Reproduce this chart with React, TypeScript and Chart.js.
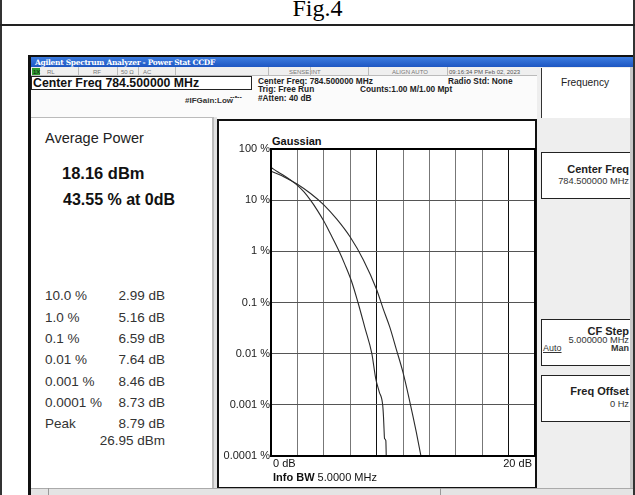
import React, { useEffect, useRef } from "react";
import { Chart, registerables } from "chart.js";

Chart.register(...registerables);

// ---- data ----
const measuredDb = [0, 0.5, 1, 1.5, 2, 2.5, 2.99, 3.5, 4, 4.5, 5.16, 5.6, 6.1, 6.59, 7.1, 7.64, 7.93, 8.2, 8.46, 8.52, 8.56, 8.6, 8.7, 8.73];
const measuredPct = [43.55, 36, 30, 24.5, 19.5, 14.5, 10, 6.4, 3.9, 2.2, 1, 0.55, 0.26, 0.1, 0.033, 0.01, 0.0033, 0.0018, 0.001, 0.0006, 0.00035, 0.00022, 0.0002, 0.0001];
const gaussianDb = [0, 1, 2, 3, 4, 5, 6, 7, 8, 8.5, 9, 9.5, 10, 10.5, 11, 11.36];
const gaussianPct = [36.8, 28.5, 20.5, 13.5, 8.1, 4.2, 1.9, 0.68, 0.18, 0.075, 0.033, 0.012, 0.0043, 0.0012, 0.0003, 0.0001];
const yTickValues = [0.0001, 0.001, 0.01, 0.1, 1, 10, 100];
const yTickLabels = ["0.0001 %", "0.001 %", "0.01 %", "0.1 %", "1 %", "10 %", "100 %"];
const xMin = 0;
const xMax = 20;
const xStep = 2;

const statLevels = ["10.0 %", "1.0 %", "0.1 %", "0.01 %", "0.001 %", "0.0001 %", "Peak"];
const statValues = ["2.99 dB", "5.16 dB", "6.59 dB", "7.64 dB", "8.46 dB", "8.73 dB", "8.79 dB"];
const peakDbm = "26.95 dBm";
const avgPower = "18.16 dBm";
const avgPct = "43.55 % at 0dB";

const SANS = "'Liberation Sans', Arial, sans-serif";

type TP = {
  x?: number;
  r?: number;
  y: number;
  s: number;
  b?: boolean;
  c?: string;
  f?: string;
  children: React.ReactNode;
  st?: React.CSSProperties;
};
function T({ x, r, y, s, b, c, f, children, st }: TP) {
  const style: React.CSSProperties = {
    position: "absolute",
    top: y - 0.846 * s,
    fontSize: s,
    lineHeight: 1,
    fontFamily: f || SANS,
    fontWeight: b ? "bold" : "normal",
    color: c || "#111",
    whiteSpace: "nowrap",
    ...st,
  };
  if (r !== undefined) style.right = 635 - r;
  else style.left = x;
  return <div style={style}>{children}</div>;
}

function Box({ l, t, w, h, st }: { l: number; t: number; w: number; h: number; st?: React.CSSProperties }) {
  return <div style={{ position: "absolute", left: l, top: t, width: w, height: h, boxSizing: "border-box", ...st }} />;
}

function CcdfChart() {
  const ref = useRef<HTMLCanvasElement | null>(null);
  useEffect(() => {
    if (!ref.current) return;
    const framePlugin = {
      id: "frame",
      afterDraw(chart: any) {
        const { ctx, chartArea } = chart;
        ctx.save();
        ctx.strokeStyle = "#000";
        ctx.lineWidth = 2;
        ctx.strokeRect(chartArea.left, chartArea.top, chartArea.right - chartArea.left, chartArea.bottom - chartArea.top);
        ctx.restore();
      },
    };
    const chart = new Chart(ref.current, {
      type: "line",
      data: {
        datasets: [
          {
            label: "Measured",
            data: measuredDb.map((x, i) => ({ x, y: measuredPct[i] })),
            borderColor: "#2a2a2a",
            borderWidth: 1.1,
            pointRadius: 0,
            cubicInterpolationMode: "monotone",
          },
          {
            label: "Gaussian",
            data: gaussianDb.map((x, i) => ({ x, y: gaussianPct[i] })),
            borderColor: "#2a2a2a",
            borderWidth: 1.1,
            pointRadius: 0,
            cubicInterpolationMode: "monotone",
          },
        ],
      },
      options: {
        animation: false,
        responsive: false,
        maintainAspectRatio: false,
        layout: { padding: { top: 11, right: 2, bottom: 12, left: 0 } },
        plugins: { legend: { display: false }, tooltip: { enabled: false }, title: { display: false } },
        scales: {
          x: {
            type: "linear",
            min: xMin,
            max: xMax,
            ticks: { display: false, stepSize: xStep },
            grid: {
              drawTicks: false,
              color: (ctx: any) => (ctx.tick && (ctx.tick.value === 8 || ctx.tick.value === 18) ? "#111" : "#777"),
              lineWidth: 1,
            },
            border: { display: false },
            afterFit: (s: any) => {
              s.height = 0;
            },
          },
          y: {
            type: "logarithmic",
            min: yTickValues[0],
            max: yTickValues[yTickValues.length - 1],
            afterBuildTicks: (s: any) => {
              s.ticks = yTickValues.map((v) => ({ value: v }));
            },
            ticks: {
              autoSkip: false,
              padding: 1,
              color: "#222",
              font: { family: SANS, size: 11 },
              callback: (v: any) => {
                const i = yTickValues.findIndex((t) => Math.abs(t - Number(v)) / t < 1e-6);
                return i >= 0 ? yTickLabels[i] : "";
              },
            },
            grid: { drawTicks: false, color: "#555", lineWidth: 1 },
            border: { display: false },
            afterFit: (s: any) => {
              s.width = 53;
            },
          },
        },
      } as any,
      plugins: [framePlugin],
    });
    return () => chart.destroy();
  }, []);
  return <canvas ref={ref} width={319} height={330} style={{ position: "absolute", left: 218, top: 138, width: 319, height: 330 }} />;
}

export default function App() {
  const rowY = [300.5, 322, 343.3, 364.7, 386, 407.3, 428.7];
  return (
    <div style={{ position: "fixed", left: 0, top: 0, width: 635, height: 495, background: "#fff", overflow: "hidden" }}>
      {/* document frame */}
      <T x={0} y={16} s={24} f="'Liberation Serif', 'Times New Roman', serif" c="#000" st={{ width: 635, textAlign: "center" }}>
        Fig.4
      </T>
      <Box l={0} t={0} w={1.5} h={495} st={{ background: "#333" }} />
      <Box l={633} t={0} w={2} h={495} st={{ background: "#333" }} />
      <Box l={0} t={24} w={635} h={1.5} st={{ background: "#222" }} />

      {/* screenshot background */}
      <Box l={28} t={55} w={605} h={440} st={{ background: "#fbfbfb", borderLeft: "3px solid #111", borderTop: "2px solid #111" }} />
      {/* title bar */}
      <Box l={31} t={57} w={602} h={10} st={{ background: "linear-gradient(#3d7de0, #1d56c2)" }} />
      <T x={35} y={65} s={7.5} b c="#fff" f="'DejaVu Serif', serif" st={{ letterSpacing: -0.3 }}>
        Agilent Spectrum Analyzer - Power Stat CCDF
      </T>
      {/* status row */}
      <Box l={31} t={67} w={510} h={9} st={{ background: "#efefef", borderBottom: "1px solid #bbb" }} />
      <Box l={32} t={67.5} w={8} h={7} st={{ background: "#2e9a2e" }} />
      <T x={33} y={74} s={6} c="#111">1X</T>
      {[78, 117, 138, 175, 268, 310, 368, 447].map((x, i) => (
        <Box key={i} l={x} t={67} w={1} h={9} st={{ background: "#bbb" }} />
      ))}
      <T x={47} y={74} s={6} c="#777">RL</T>
      <T x={93} y={74} s={6} c="#777">RF</T>
      <T x={121} y={74} s={6} c="#777">50 Ω</T>
      <T x={143} y={74} s={6} c="#777">AC</T>
      <T x={289} y={74} s={6} c="#777">SENSE:INT</T>
      <T x={392} y={74} s={6} c="#777">ALIGN AUTO</T>
      <T x={449} y={74} s={6} c="#555">09:16:34 PM Feb 02, 2023</T>

      {/* center freq box */}
      <Box l={31} t={76} w={221} h={14} st={{ background: "#fff", border: "1px solid #222" }} />
      <T x={33} y={87.5} s={12.3} b c="#111">Center Freq 784.500000 MHz</T>
      <T x={258} y={84} s={8.3} b c="#222">Center Freq: 784.500000 MHz</T>
      <T x={258} y={92.5} s={8.3} b c="#222">Trig: Free Run</T>
      <T x={258} y={101} s={8.3} b c="#222">#Atten: 40 dB</T>
      <T x={360} y={92.5} s={8.3} b c="#222">Counts:1.00 M/1.00 Mpt</T>
      <T x={448} y={84} s={8.3} b c="#222">Radio Std: None</T>
      <T x={185} y={104} s={8} b c="#333">#IFGain:Low</T>
      <T x={230} y={99} s={7} b c="#333">--•--</T>

      {/* left panel */}
      <Box l={31} t={117} w={183} h={371} st={{ background: "#fff", borderTop: "1px solid #bbb", borderRight: "2px solid #bbb" }} />
      <Box l={214} t={117} w={3} h={371} st={{ background: "#e2e2e2" }} />
      <T x={45} y={143.5} s={14.5} c="#222">Average Power</T>
      <T x={62} y={179} s={16.5} b c="#111">{avgPower}</T>
      <T x={63} y={205.5} s={16} b c="#111">{avgPct}</T>
      {statLevels.map((l, i) => (
        <React.Fragment key={l}>
          <T x={45} y={rowY[i]} s={13.5} c="#333">{l}</T>
          <T r={165} y={rowY[i]} s={13.5} c="#333">{statValues[i]}</T>
        </React.Fragment>
      ))}
      <T r={165} y={445} s={13.5} c="#333">{peakDbm}</T>

      {/* plot panel */}
      <Box l={217} t={119} w={320} h={370} st={{ background: "#fff", border: "2px solid #111" }} />
      <T x={272} y={145} s={11} b c="#111">Gaussian</T>
      <CcdfChart />
      <T x={273} y={467.5} s={11} c="#111">0 dB</T>
      <T r={532} y={467.5} s={11} c="#111">20 dB</T>
      <T x={273} y={481} s={11} c="#111">
        <b>Info BW</b> 5.0000 MHz
      </T>

      {/* softkey column */}
      <Box l={537} t={67} w={96} h={428} st={{ background: "#eeeeee" }} />
      <Box l={630} t={67} w={3} h={428} st={{ background: "#c8c8c8" }} />
      <Box l={541} t={68} w={89} h={50} st={{ background: "#fff", borderLeft: "1px solid #333" }} />
      <T x={561} y={87} s={10.2} c="#222">Frequency</T>
      <Box l={541} t={152} w={89} h={47} st={{ background: "#fff", border: "1px solid #222", borderRight: "none" }} />
      <T r={629} y={173} s={11} b c="#222">Center Freq</T>
      <T r={629} y={185} s={9.3} c="#333">784.500000 MHz</T>
      <Box l={541} t={319} w={89} h={47} st={{ background: "#fff", border: "1px solid #222", borderRight: "none" }} />
      <T r={629} y={335} s={11} b c="#222">CF Step</T>
      <T r={629} y={343.5} s={9.3} c="#333">5.000000 MHz</T>
      <T x={543} y={352} s={9} c="#333" st={{ textDecoration: "underline" }}>Auto</T>
      <T r={629} y={352} s={9} b c="#333">Man</T>
      <Box l={541} t={375} w={89} h={47} st={{ background: "#fff", border: "1px solid #222", borderRight: "none" }} />
      <T r={629} y={395} s={11} b c="#222">Freq Offset</T>
      <T r={629} y={408} s={9.3} c="#333">0 Hz</T>

      {/* bottom strip */}
      <Box l={31} t={488} w={602} h={7} st={{ background: "#e4e4e4", borderTop: "1px solid #aaa" }} />
      <Box l={48} t={488} w={1} h={7} st={{ background: "#999" }} />
      <Box l={440} t={488} w={1} h={7} st={{ background: "#999" }} />
    </div>
  );
}
